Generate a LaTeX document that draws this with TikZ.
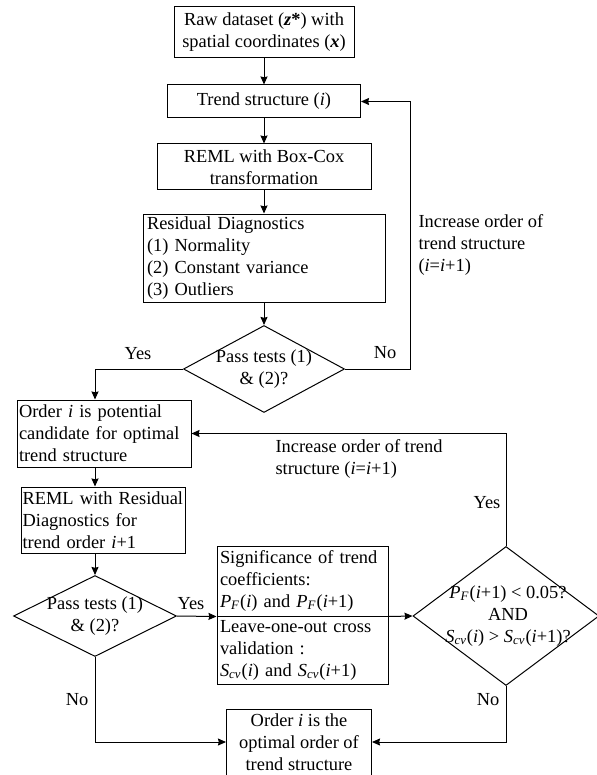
\documentclass[tikz,border=0pt]{standalone}
\usepackage{fontspec}
\setmainfont{Liberation Serif}
\usetikzlibrary{shapes.geometric,arrows.meta}
\newcommand{\ivar}{\textit{i}}
\newcommand{\PF}{\textit{P}\textsubscript{\textit{F}}}
\newcommand{\Scv}{\textit{S}\textsubscript{\textit{cv}}}
\tikzset{
  box/.style={rectangle, draw, fill=white, inner sep=0pt, align=center},
  leftbox/.style={rectangle, draw, fill=white, inner ysep=0pt, align=left},
  decision/.style={diamond, draw, fill=white, inner sep=0pt},
  txt/.style={inner sep=0pt, align=center},
  note/.style={inner sep=0pt, align=left, anchor=west}
}

\begin{document}
\begin{tikzpicture}[x=0.5pt,y=-0.5pt,->,>={Stealth[length=4pt,width=3.5pt,inset=0.4pt]},line width=0.5pt,font=\fontsize{9.2}{11}\selectfont]
  \useasboundingbox (0,0) rectangle (597,775);
  % main column
  \node[box, minimum width=90pt, minimum height=25.5pt] (raw) at (264,32.5) {Raw dataset (\textbf{\textit{z}*}) with\\spatial coordinates (\textbf{\textit{x}})};
  \node[box, minimum width=96.5pt, minimum height=16.5pt] (trend) at (264,101.5) {Trend structure (\ivar)};
  \node[box, minimum width=107pt, minimum height=23pt] (boxcox) at (264,167) {REML with Box-Cox\\transformation};
  \node[leftbox, text width=117pt, inner xsep=2pt, minimum height=44pt] (resid) at (264,258) {Residual Diagnostics\\(1) Normality\\(2) Constant variance\\(3) Outliers};
  \node[decision, minimum width=80.5pt, minimum height=43.5pt] (test1) at (264,369) {};
  \node[txt] (test1txt) at (test1) {Pass tests (1)\\\& (2)?};

  % second stage
  \node[leftbox, text width=85pt, inner xsep=1pt, minimum height=33.5pt] (cand) at (104,433.5) {Order \ivar{} is potential\\candidate for optimal\\trend structure};
  \node[leftbox, text width=80.4pt, inner xsep=0.8pt, minimum height=33pt] (reml2) at (103,520) {REML with Residual\\Diagnostics for\\trend order \ivar+1};
  \node[decision, minimum width=81.5pt, minimum height=40.5pt] (test2) at (95,616) {};
  \node[txt] (test2txt) at (test2) {Pass tests (1)\\\& (2)?};
  \node[leftbox, text width=82.5pt, inner xsep=1.5pt, minimum height=35pt] (sig) at (302.5,581) {Significance of trend\\coefficients:\\\PF(\ivar) and \PF(\ivar+1)};
  \node[leftbox, text width=82.5pt, inner xsep=1.5pt, minimum height=34pt] (loo) at (302.5,650) {Leave-one-out cross\\validation :\\\Scv(\ivar) and \Scv(\ivar+1)};
  \node[decision, minimum width=93pt, minimum height=69.5pt] (test3) at (506,616) {};
  \node[txt] (test3txt) at (508,616) {\PF(\ivar+1) < 0.05?\\AND\\\Scv(\ivar) > \Scv(\ivar+1)?};
  \node[box, minimum width=72.5pt, minimum height=33pt] (final) at (299,742) {Order \ivar{} is the\\optimal order of\\trend structure};

  % labels
  \node[txt] (yes1) at (138,354) {Yes};
  \node[txt] (no1) at (385,353) {No};
  \node[note] (inc1) at (418,245) {Increase order of\\trend structure\\(\ivar=\ivar+1)};
  \node[txt] (yes2) at (487,503) {Yes};
  \node[note] (inc2) at (275,459) {Increase order of trend\\structure (\ivar=\ivar+1)};
  \node[txt] (yes3) at (191,604) {Yes};
  \node[txt] (no2) at (77,700) {No};
  \node[txt] (no3) at (488,700) {No};

  \coordinate (up1) at (410,101.5);

  \draw (raw) -- (trend);
  \draw (trend) -- (boxcox);
  \draw (boxcox) -- (resid);
  \draw (resid) -- (test1);
  \draw (test1.east) -| (up1) -- (trend.east);
  \draw (test1.west) -| (test2 |- cand.north);
  \draw (test2 |- cand.south) -- (test2 |- reml2.north);
  \draw (test2 |- reml2.south) -- (test2.north);
  \draw (test2.east) -- (sig.south west);
  \draw (sig.south east) -- (test3.west);
  \draw (test3.north) |- (cand.east);
  \draw (test2.south) |- (final.west);
  \draw (test3.south) |- (final.east);
\end{tikzpicture}
\end{document}
